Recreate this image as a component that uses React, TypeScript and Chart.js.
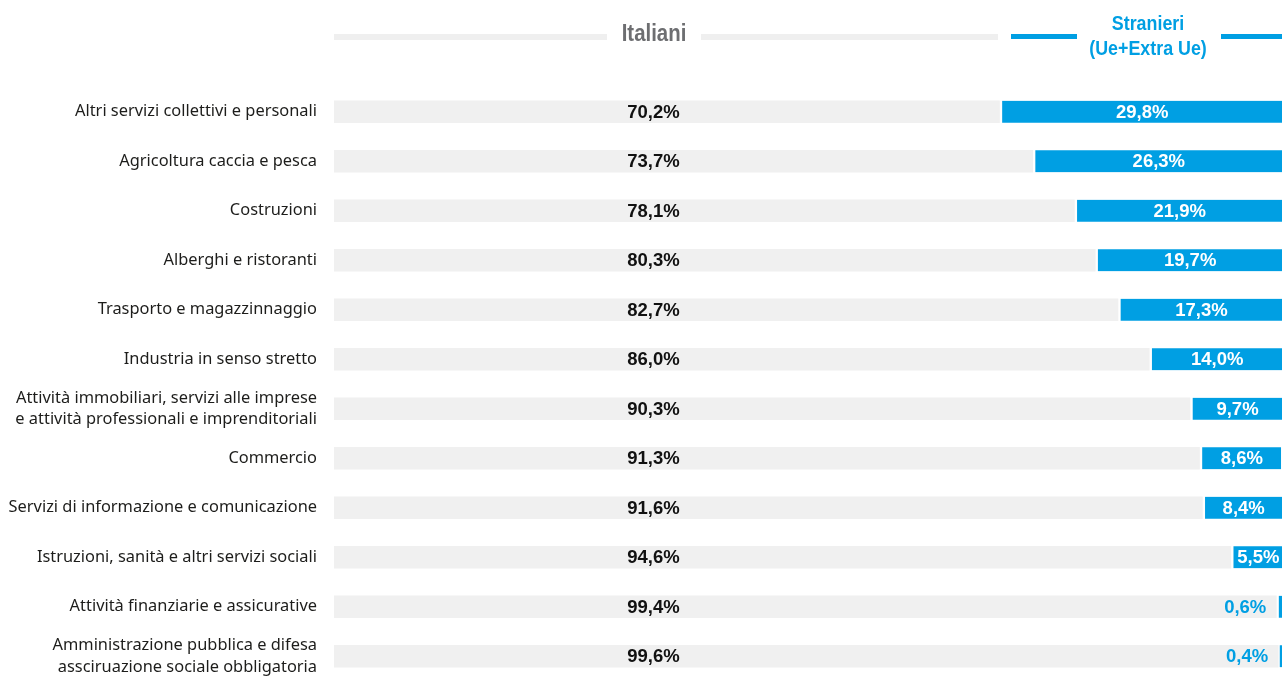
import React, { useEffect, useRef } from "react";
import { Chart, registerables } from "chart.js";

Chart.register(...registerables);

const categories: (string | string[])[] = [
  "Altri servizi collettivi e personali",
  "Agricoltura caccia e pesca",
  "Costruzioni",
  "Alberghi e ristoranti",
  "Trasporto e magazzinnaggio",
  "Industria in senso stretto",
  ["Attività immobiliari, servizi alle imprese", "e attività professionali e imprenditoriali"],
  "Commercio",
  "Servizi di informazione e comunicazione",
  "Istruzioni, sanità e altri servizi sociali",
  "Attività finanziarie e assicurative",
  ["Amministrazione pubblica e difesa", "assciruazione sociale obbligatoria"],
];

const italiani = [70.2, 73.7, 78.1, 80.3, 82.7, 86.0, 90.3, 91.3, 91.6, 94.6, 99.4, 99.6];
const stranieri = [29.8, 26.3, 21.9, 19.7, 17.3, 14.0, 9.7, 8.6, 8.4, 5.5, 0.6, 0.4];

const seriesNames = ["Italiani", "Stranieri", "(Ue+Extra Ue)"];

const GRAY_BAR = "#f0f0f0";
const BLUE = "#009fe3";
const GRAY_TEXT = "#6d6e71";

const fmt = (v: number) => v.toFixed(1).replace(".", ",") + "%";

export default function App() {
  const ref = useRef<HTMLCanvasElement | null>(null);

  useEffect(() => {
    if (!ref.current) return;

    const condensedText = (ctx: any, text: string, cx: number, y: number, sx: number) => {
      ctx.save();
      ctx.translate(cx, y);
      ctx.scale(sx, 1);
      ctx.textAlign = "center";
      ctx.fillText(text, 0, 0);
      ctx.restore();
    };

    const headerPlugin = {
      id: "header",
      afterDraw(chart: any) {
        const ctx = chart.ctx;
        ctx.save();
        ctx.textBaseline = "alphabetic";
        // Italiani header
        ctx.fillStyle = "#efefef";
        ctx.fillRect(334, 34, 607 - 334, 6);
        ctx.fillRect(701, 34, 998 - 701, 6);
        ctx.fillStyle = GRAY_TEXT;
        ctx.font = "bold 24px 'Liberation Sans', Arial, sans-serif";
        condensedText(ctx, seriesNames[0], 654, 41, 0.85);
        // Stranieri header
        ctx.fillStyle = BLUE;
        ctx.fillRect(1011, 34, 1077 - 1011, 5);
        ctx.fillRect(1221, 34, 1282 - 1221, 5);
        ctx.font = "bold 21px 'Liberation Sans', Arial, sans-serif";
        condensedText(ctx, seriesNames[1], 1148, 30, 0.85);
        condensedText(ctx, seriesNames[2], 1148, 55, 0.85);
        ctx.restore();
      },
    };

    const valuePlugin = {
      id: "values",
      afterDatasetsDraw(chart: any) {
        const ctx = chart.ctx;
        const xs = chart.scales.x;
        ctx.save();
        ctx.font = "bold 18.5px 'Liberation Sans', Arial, sans-serif";
        ctx.textBaseline = "middle";
        const m0 = chart.getDatasetMeta(0);
        const m1 = chart.getDatasetMeta(1);
        m0.data.forEach((bar: any, i: number) => {
          ctx.fillStyle = "#111";
          ctx.textAlign = "center";
          ctx.fillText(fmt(italiani[i]), xs.getPixelForValue(33.7), bar.y + 1);
        });
        m1.data.forEach((bar: any, i: number) => {
          const v = stranieri[i];
          if (v >= 5) {
            ctx.fillStyle = "#ffffff";
            ctx.textAlign = "center";
            ctx.fillText(fmt(v), (bar.base + 3 + bar.x) / 2, bar.y + 1);
          } else {
            ctx.fillStyle = BLUE;
            ctx.textAlign = "right";
            ctx.fillText(fmt(v), bar.base - 10, bar.y + 1);
          }
        });
        ctx.restore();
      },
    };

    const chart = new Chart(ref.current, {
      type: "bar",
      data: {
        labels: categories as any,
        datasets: [
          {
            label: seriesNames[0],
            data: italiani,
            backgroundColor: GRAY_BAR,
            borderWidth: 0,
            barThickness: 22,
          },
          {
            label: seriesNames[1] + " " + seriesNames[2],
            data: stranieri,
            backgroundColor: BLUE,
            borderColor: "#ffffff",
            borderWidth: { left: 3, right: 0, top: 0, bottom: 0 } as any,
            borderSkipped: false,
            barThickness: 22,
          },
        ],
      },
      options: {
        indexAxis: "y",
        animation: false,
        responsive: true,
        maintainAspectRatio: false,
        layout: { padding: { top: 87, right: 0, bottom: -5, left: 0 } },
        plugins: {
          legend: { display: false },
          tooltip: { enabled: false },
        },
        scales: {
          x: {
            stacked: true,
            min: 0,
            max: 100,
            display: false,
          },
          y: {
            stacked: true,
            grid: { display: false, drawTicks: false },
            border: { display: false },
            ticks: {
              color: "#1d1d1b",
              padding: 17,
              font: { family: "'Noto Sans', 'Open Sans', sans-serif", size: 16.4, lineHeight: 1.3 },
            },
            afterFit(scale: any) {
              scale.width = 334;
              scale.paddingTop = 0;
              scale.paddingBottom = 0;
            },
          },
        },
      },
      plugins: [headerPlugin, valuePlugin],
    });

    return () => chart.destroy();
  }, []);

  return (
    <div style={{ position: "absolute", left: 0, top: 0, width: 1282, height: 681, background: "#fff" }}>
      <canvas ref={ref} />
    </div>
  );
}
